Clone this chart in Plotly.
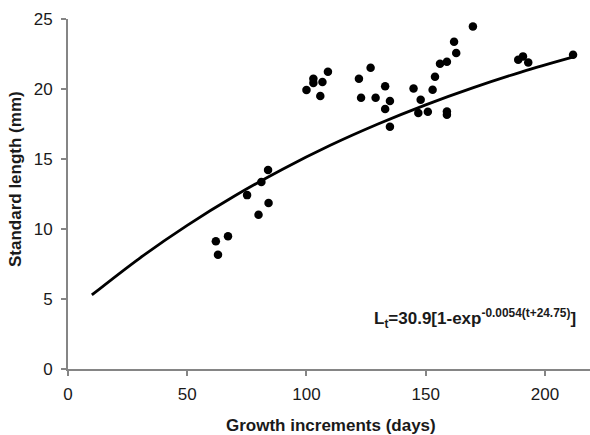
import plotly.graph_objects as go

# Observed data: growth increments (days) vs standard length (mm)
days = [62.0, 62.9, 67.1, 75.1, 79.9, 81.1, 83.9, 84.1,
        100.0, 102.9, 102.9, 105.8, 106.7, 109.0,
        122.0, 122.9, 126.9, 129.0, 133.0, 133.0, 135.0, 135.0,
        144.9, 146.9, 147.9, 150.9, 152.9, 153.9, 156.0, 158.9, 158.9, 158.9,
        161.9, 162.8, 169.8, 188.8, 190.8, 193.0, 211.8]
length_mm = [9.13, 8.16, 9.48, 12.42, 11.02, 13.35, 14.22, 11.86,
             19.93, 20.74, 20.43, 19.5, 20.5, 21.24,
             20.74, 19.38, 21.52, 19.38, 20.19, 18.57, 19.14, 17.31,
             20.04, 18.29, 19.24, 18.38, 19.95, 20.88, 21.81, 21.95, 18.4, 18.16,
             23.38, 22.57, 24.47, 22.09, 22.33, 21.9, 22.45]

# Fitted growth curve
curve_t = [10, 30, 50, 70, 90, 110, 130, 150, 170, 190, 212]
curve_L = [5.29, 7.91, 10.26, 12.37, 14.27, 15.98, 17.50, 18.87, 20.10, 21.21, 22.29]

x_ticks = [0, 50, 100, 150, 200]
y_ticks = [0, 5, 10, 15, 20, 25]

FONT = "Liberation Sans, Arial, sans-serif"
AX = "#858585"
TXT = "#1a1a1a"
FS = 17

fig = go.Figure()
fig.add_trace(go.Scatter(x=curve_t, y=curve_L, mode="lines",
                         line=dict(color="black", width=2.8, shape="spline"),
                         showlegend=False, hoverinfo="skip"))
fig.add_trace(go.Scatter(x=days, y=length_mm, mode="markers",
                         marker=dict(color="black", size=8.5),
                         cliponaxis=False, showlegend=False))

fig.update_layout(
    width=590, height=435,
    margin=dict(l=68, r=0, t=19, b=66),
    paper_bgcolor="white", plot_bgcolor="white",
    font=dict(family=FONT, color=TXT, size=FS),
    xaxis=dict(range=[0, 218.9], tickvals=x_ticks, showgrid=False, zeroline=False,
               showline=True, linecolor=AX, linewidth=2,
               ticks="outside", ticklen=5, tickwidth=2, tickcolor=AX,
               ticklabelstandoff=4,
               tickfont=dict(size=FS, family=FONT, color=TXT)),
    yaxis=dict(range=[0, 25], tickvals=y_ticks, showgrid=False, zeroline=False,
               showline=True, linecolor=AX, linewidth=2,
               ticks="outside", ticklen=5, tickwidth=2, tickcolor=AX,
               ticklabelstandoff=5,
               tickfont=dict(size=FS, family=FONT, color=TXT)),
    annotations=[
        dict(text="<b>Growth increments (days)</b>", xref="paper", yref="paper",
             x=(331 - 68) / 522, y=-(425 - 369) / 350, xanchor="center", yanchor="middle",
             showarrow=False, font=dict(size=FS, family=FONT, color=TXT)),
        dict(text="<b>Standard length (mm)</b>", xref="paper", yref="paper",
             x=-(68 - 15) / 522, y=(369 - 179) / 350, xanchor="center", yanchor="middle",
             textangle=-90, showarrow=False,
             font=dict(size=FS, family=FONT, color=TXT)),
        dict(text="<b>L<sub>t</sub>=30.9[1-exp<sup>-0.0054(t+24.75)</sup>]</b>",
             xref="paper", yref="y", x=(578 - 68) / 522, y=3.6,
             xanchor="right", yanchor="middle", showarrow=False,
             font=dict(size=FS, family=FONT, color=TXT)),
    ],
)

fig.write_html("out.html")
